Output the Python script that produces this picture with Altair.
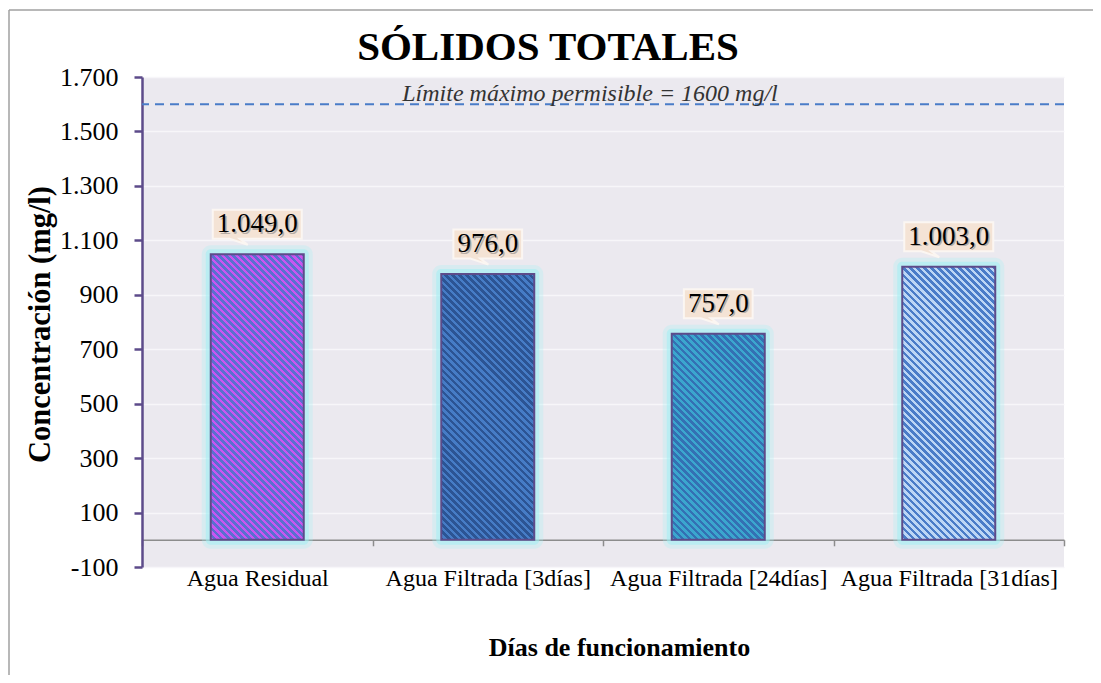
import altair as alt
import pandas as pd

# ---- data ----
categories = ["Agua Residual", "Agua Filtrada [3días]", "Agua Filtrada [24días]", "Agua Filtrada [31días]"]
values = [1049.0, 976.0, 757.0, 1003.0]
limit_values = [1600]
limit_labels = ["Límite máximo permisible = 1600 mg/l"]
chart_title = ["SÓLIDOS TOTALES"]
y_ticks = [-100, 100, 300, 500, 700, 900, 1100, 1300, 1500, 1700]

# ---- styles ----
stripe_colors = [("#C955F0", "#5A70D0"), ("#2C5494", "#467CC6"),
                 ("#3BA6CE", "#3470B3"), ("#BCD6F5", "#4A7CC8")]
W, H = 922, 490
YMIN, YMAX = -100, 1700
BAR_W = 93
PERIOD = 7.0
SERIF = "Liberation Serif"
LABEL_FS = 27

df = pd.DataFrame({"cat": categories, "val": values})
lim_df = pd.DataFrame({"lim": limit_values, "txt": limit_labels})
title_df = pd.DataFrame({"t": chart_title})


def fmt(v):
    s = f"{v:,.1f}"
    return s.replace(",", "X").replace(".", ",").replace("X", ".")


def text_width(s, fs):
    w = 0.0
    for ch in s:
        w += 0.25 if ch in ".," else 0.5
    return w * fs


def stripes(value, c1, c2):
    h = value * H / (YMAX - YMIN)
    r = h / BAR_W
    a = (1 + r) / (1 + r * r)
    b = -a * r
    n = max(1, round((BAR_W + h) / PERIOD))
    stops = []
    for k in range(n):
        o0, om, o1 = k / n, (k + 0.5) / n, (k + 1) / n
        stops += [alt.GradientStop(offset=o0, color=c1), alt.GradientStop(offset=om, color=c1),
                  alt.GradientStop(offset=om, color=c2), alt.GradientStop(offset=o1, color=c2)]
    return alt.LinearGradient(gradient="linear", stops=stops, x1=0, y1=1, x2=a, y2=1 + b)


def box_path(label):
    hw = text_width(label, LABEL_FS) / 2 + 4
    top, bot = -14.5, 14.5
    return (f"M{-hw},{top} L{hw},{top} L{hw},{bot} L{-hw + 27},{bot} "
            f"L{-hw + 35},{bot + 6} L{-hw + 17},{bot} L{-hw},{bot} Z")


x_scale = alt.Scale(domain=categories, paddingInner=0, paddingOuter=0)
y_scale = alt.Scale(domain=[YMIN, YMAX], nice=False, zero=False)

x_axis = alt.Axis(
    offset=-(0 - YMIN) * H / (YMAX - YMIN), tickBand="extent", tickSize=6, tickColor="#8C8C8C",
    tickWidth=1.5, domainColor="#8C8C8C", domainWidth=1.5, labelFont=SERIF, labelFontSize=24,
    labelColor="black", labelAngle=0, labelPadding=21, labelLimit=0, grid=False,
    title="Días de funcionamiento", titleFont=SERIF, titleFontSize=26, titleFontWeight="bold",
    titleColor="black", titleX=477, titleY=108, titleAlign="center", titleBaseline="middle")
y_axis = alt.Axis(
    values=y_ticks, format=",.0f", labelFont=SERIF, labelFontSize=26, labelColor="black",
    labelPadding=16, tickSize=8, tickColor="#5D4B8A", tickWidth=2.5, domainColor="#5D4B8A",
    domainWidth=2.5, grid=True, gridColor="#F7F6F9", gridWidth=1.5,
    title="Concentración (mg/l)", titleFont=SERIF, titleFontSize=30.5, titleFontWeight="bold",
    titleColor="black", titleX=-102, titleY=H / 2 + 2, titleAlign="center", titleBaseline="middle",
    titleAngle=270)

base = alt.Chart(df)
X = alt.X("cat:N", scale=x_scale, sort=categories, axis=x_axis)
Y = alt.Y("val:Q", scale=y_scale, axis=y_axis)

layers = []
layers.append(base.mark_bar(width=BAR_W + 18, color="#A6F2F5", opacity=0.28, cornerRadius=9,
                            yOffset=-9, y2Offset=9).encode(x=X, y=Y, y2=alt.datum(0)))
layers.append(base.mark_bar(width=BAR_W + 10, color="#9EF0F3", opacity=0.5, cornerRadius=5,
                            yOffset=-5, y2Offset=5).encode(x=X, y=Y, y2=alt.datum(0)))

for i, cat in enumerate(categories):
    sub = base.transform_filter(alt.FieldEqualPredicate(field="cat", equal=cat))
    c1, c2 = stripe_colors[i]
    layers.append(sub.mark_bar(width=BAR_W, fill=stripes(values[i], c1, c2), stroke="#5D4B8A",
                               strokeWidth=2).encode(x=X, y=Y, y2=alt.datum(0)))
    layers.append(sub.mark_point(shape=box_path(fmt(values[i])), size=4, filled=True, fill="#F4E3D5",
                                 opacity=1, stroke="#FBF6F2", strokeWidth=2, yOffset=-30).encode(x=X, y=Y))
    layers.append(sub.mark_text(font=SERIF, fontSize=LABEL_FS, color="#777777", opacity=0.5,
                                baseline="middle", dx=1.5, dy=-28.5).encode(
        x=X, y=Y, text=alt.Text("val:Q", format=",.1f")))
    layers.append(sub.mark_text(font=SERIF, fontSize=LABEL_FS, color="black", baseline="middle",
                                dy=-30).encode(x=X, y=Y, text=alt.Text("val:Q", format=",.1f")))

lim = alt.Chart(lim_df)
Ylim = alt.Y("lim:Q", scale=y_scale, axis=y_axis)
layers.append(lim.mark_rule(color="#4A7CC8", strokeDash=[9, 6], strokeWidth=2).encode(y=Ylim))
layers.append(lim.mark_text(font=SERIF, fontSize=24, fontStyle="italic", color="#333333",
                            baseline="alphabetic", align="center", dy=-3).encode(
    x=alt.value(448), y=Ylim, text="txt:N"))
# chart frame (left and top edges)
layers.append(lim.mark_rule(color="#A0A0A0", strokeWidth=1.5).encode(
    x=alt.value(-133), y=alt.value(-67), y2=alt.value(2000)))
layers.append(lim.mark_rule(color="#A0A0A0", strokeWidth=1.5).encode(
    x=alt.value(-133), x2=alt.value(2000), y=alt.value(-67)))
layers.append(alt.Chart(title_df).mark_text(font=SERIF, fontSize=41, fontWeight="bold", color="black",
                                            baseline="alphabetic", align="center").encode(
    x=alt.value(406), y=alt.value(-17), text="t:N"))

chart = alt.layer(*layers).properties(
    width=W, height=H,
    autosize=alt.AutoSizeParams(type="none"),
    padding={"left": 134, "top": 69, "right": 29, "bottom": 108},
).configure(
    background="white",
    locale={"number": {"decimal": ",", "thousands": ".", "grouping": [3],
                       "currency": ["", ""], "minus": "-"}},
).configure_view(fill="#EBE9EF", strokeWidth=0)

chart.save("out.html", embed_options={"renderer": "svg", "actions": False})
